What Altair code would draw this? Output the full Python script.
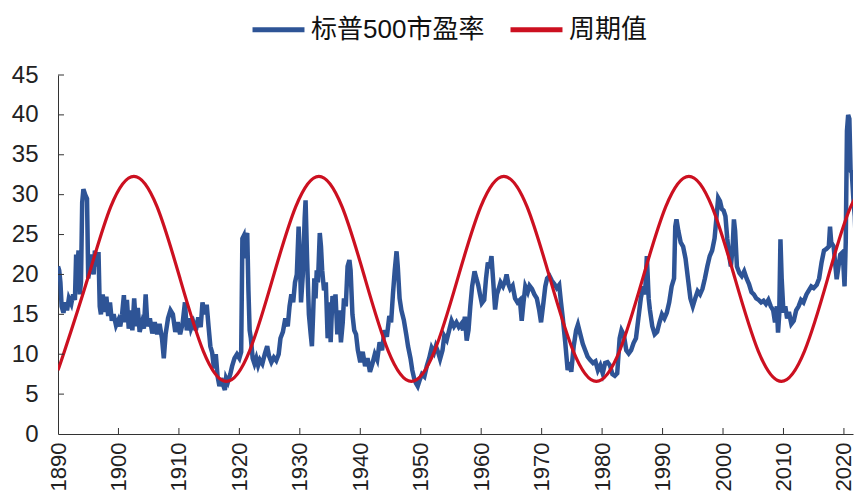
import altair as alt
import pandas as pd

SERIES = ["标普500市盈率", "周期值"]
BLUE = "#2E5496"
RED = "#CC1020"

pe_years = [
    1890.0, 1890.2, 1890.4, 1890.6, 1890.9, 1891.2, 1891.5, 1891.8, 1892.2, 1892.5,
    1892.8, 1893.0, 1893.2, 1893.4, 1893.6, 1893.8, 1894.0, 1894.2, 1894.5, 1894.8,
    1895.0, 1895.3, 1895.6, 1895.9, 1896.1, 1896.4, 1896.7, 1896.9, 1897.1, 1897.4,
    1897.7, 1898.0, 1898.3, 1898.6, 1898.9, 1899.2, 1899.6, 1900.0, 1900.3, 1900.6,
    1900.9, 1901.1, 1901.4, 1901.7, 1902.0, 1902.3, 1902.6, 1902.9, 1903.2, 1903.5,
    1903.9, 1904.2, 1904.5, 1904.8, 1905.2, 1905.6, 1906.0, 1906.4, 1906.8, 1907.2,
    1907.5, 1907.8, 1908.2, 1908.6, 1909.0, 1909.4, 1909.8, 1910.2, 1910.6, 1911.0,
    1911.3, 1911.7, 1912.0, 1912.4, 1912.8, 1913.2, 1913.6, 1913.9, 1914.3, 1914.6,
    1914.9, 1915.2, 1915.5, 1915.8, 1916.1, 1916.4, 1916.7, 1917.0, 1917.3, 1917.6,
    1917.8, 1918.1, 1918.5, 1918.8, 1919.2, 1919.6, 1920.0, 1920.3, 1920.5, 1920.7,
    1920.9, 1921.1, 1921.3, 1921.5, 1921.7, 1921.9, 1922.2, 1922.5, 1922.8, 1923.1,
    1923.4, 1923.8, 1924.2, 1924.6, 1924.9, 1925.3, 1925.7, 1926.1, 1926.5, 1926.8,
    1927.2, 1927.6, 1928.0, 1928.3, 1928.6, 1928.9, 1929.2, 1929.5, 1929.8, 1930.0,
    1930.2, 1930.5, 1930.8, 1930.95, 1931.2, 1931.5, 1931.8, 1932.0, 1932.2, 1932.4,
    1932.6, 1932.8, 1933.0, 1933.3, 1933.5, 1933.7, 1934.0, 1934.3, 1934.6, 1934.9,
    1935.1, 1935.4, 1935.7, 1935.9, 1936.2, 1936.5, 1936.8, 1937.1, 1937.3, 1937.6,
    1937.9, 1938.2, 1938.4, 1938.7, 1939.0, 1939.3, 1939.6, 1940.0, 1940.4, 1940.8,
    1941.2, 1941.6, 1942.0, 1942.4, 1942.8, 1943.2, 1943.6, 1944.0, 1944.4, 1944.8,
    1945.1, 1945.4, 1945.7, 1946.0, 1946.2, 1946.5, 1946.8, 1947.2, 1947.6, 1947.9,
    1948.3, 1948.6, 1948.9, 1949.2, 1949.5, 1949.8, 1950.2, 1950.6, 1951.0, 1951.4,
    1951.8, 1952.2, 1952.5, 1952.9, 1953.2, 1953.6, 1953.9, 1954.3, 1954.7, 1955.1,
    1955.5, 1955.9, 1956.3, 1956.7, 1957.0, 1957.3, 1957.6, 1957.9, 1958.2, 1958.5,
    1958.9, 1959.2, 1959.5, 1959.8, 1960.1, 1960.5, 1960.8, 1961.1, 1961.4, 1961.7,
    1962.0, 1962.3, 1962.6, 1962.9, 1963.2, 1963.6, 1964.0, 1964.2, 1964.5, 1964.8,
    1965.2, 1965.6, 1966.0, 1966.4, 1966.7, 1967.0, 1967.3, 1967.7, 1968.0, 1968.4,
    1968.8, 1969.2, 1969.6, 1969.9, 1970.3, 1970.6, 1970.9, 1971.3, 1971.7, 1972.1,
    1972.5, 1972.9, 1973.2, 1973.5, 1973.9, 1974.3, 1974.6, 1974.9, 1975.3, 1975.7,
    1976.0, 1976.4, 1976.8, 1977.2, 1977.6, 1978.0, 1978.5, 1978.9, 1979.3, 1979.7,
    1980.1, 1980.5, 1980.9, 1981.3, 1981.7, 1982.1, 1982.5, 1982.9, 1983.2, 1983.6,
    1984.0, 1984.4, 1984.8, 1985.2, 1985.6, 1986.0, 1986.4, 1986.8, 1987.1, 1987.4,
    1987.7, 1987.9, 1988.3, 1988.7, 1989.1, 1989.5, 1989.9, 1990.3, 1990.7, 1991.1,
    1991.5, 1991.9, 1992.1, 1992.3, 1992.6, 1993.0, 1993.4, 1993.8, 1994.2, 1994.6,
    1995.0, 1995.4, 1995.8, 1996.2, 1996.6, 1997.0, 1997.4, 1997.8, 1998.2, 1998.6,
    1998.9, 1999.2, 1999.5, 1999.8, 2000.1, 2000.4, 2000.7, 2001.0, 2001.3, 2001.6,
    2001.8, 2002.0, 2002.3, 2002.7, 2003.1, 2003.5, 2003.9, 2004.3, 2004.7, 2005.1,
    2005.5, 2005.9, 2006.3, 2006.7, 2007.1, 2007.5, 2007.9, 2008.3, 2008.6, 2008.9,
    2009.1, 2009.3, 2009.5, 2009.7, 2010.0, 2010.3, 2010.6, 2010.9, 2011.3, 2011.7,
    2012.1, 2012.5, 2012.9, 2013.3, 2013.8, 2014.2, 2014.6, 2015.0, 2015.5, 2015.9,
    2016.3, 2016.7, 2017.1, 2017.5, 2017.7, 2017.9, 2018.3, 2018.6, 2018.8, 2019.1,
    2019.4, 2019.8, 2020.1, 2020.3, 2020.5, 2020.7, 2020.9, 2021.1, 2021.3, 2021.6,
    2021.8, 2022.0, 2022.2, 2022.5, 2022.8, 2023.0,
]
pe_values = [
    21.0, 20.5, 19.0, 16.0, 15.2, 16.5, 15.5, 17.0, 16.3, 17.5,
    16.8, 22.5, 21.0, 23.0, 17.5, 19.0, 29.0, 30.7, 30.0, 29.5,
    19.5, 21.0, 22.5, 20.0, 23.0, 21.0, 22.8, 16.0, 15.0, 17.5,
    15.3, 17.2, 14.8, 16.5, 14.2, 15.0, 13.6, 14.3, 13.5, 15.0,
    17.4, 14.0, 16.8, 13.2, 15.5, 13.0, 17.0, 13.5, 15.8, 12.8,
    14.0, 13.2, 17.5, 13.5, 14.5, 12.6, 14.0, 12.5, 13.8, 12.0,
    9.5, 12.5, 14.5, 15.5, 15.0, 12.8, 14.0, 12.5, 13.8, 16.5,
    13.0, 14.5, 13.2, 14.0, 13.0, 14.6, 13.4, 16.5, 15.0, 16.2,
    13.5, 11.0, 10.2, 8.2, 10.0, 7.2, 6.0, 7.0, 6.2, 5.5,
    7.0, 6.5, 7.5, 8.5, 9.5, 10.0, 9.5, 10.3, 24.5, 24.8,
    22.0, 24.8, 25.2, 18.0, 13.0, 12.0, 9.5, 8.8, 9.5, 8.6,
    9.3, 8.8, 10.0, 11.0, 9.8, 9.0, 9.6, 9.2, 10.0, 12.0,
    12.8, 14.5, 13.5, 16.0, 17.5, 16.5, 19.0, 20.0, 26.0, 22.0,
    16.5, 20.0, 27.0, 29.3, 22.0, 15.0, 12.5, 11.0, 15.0, 19.5,
    17.0, 20.5, 19.0, 25.2, 23.5, 20.5, 18.0, 19.0, 12.0, 16.5,
    11.5, 17.3, 16.0, 17.5, 12.5, 15.5, 11.5, 14.0, 17.0, 16.0,
    21.0, 21.8, 20.5, 15.0, 13.0, 12.5, 10.5, 9.0, 10.3, 8.5,
    9.5, 7.8, 8.8, 10.0, 9.3, 11.5, 10.5, 13.0, 12.2, 14.8,
    14.0, 17.5, 20.5, 22.9, 21.0, 17.0, 15.5, 14.3, 12.5, 11.0,
    9.5, 8.0, 7.0, 6.4, 6.0, 6.7, 7.5, 7.2, 8.5, 9.5,
    10.8, 10.2, 11.0, 10.2, 9.4, 10.5, 12.3, 11.8, 13.0, 14.2,
    13.5, 14.0, 13.4, 13.8, 13.0, 14.7, 11.7, 13.0, 16.0, 18.5,
    20.4, 19.5, 18.7, 17.5, 16.4, 16.8, 19.5, 21.5, 20.8, 22.3,
    19.0, 15.6, 17.5, 18.2, 19.0, 18.5, 19.3, 20.0, 18.8, 18.2,
    18.6, 17.0, 16.5, 16.8, 14.2, 16.5, 18.5, 17.8, 18.6, 18.2,
    17.5, 17.0, 15.5, 14.0, 16.5, 18.5, 19.5, 19.8, 19.2, 18.8,
    18.3, 18.7, 16.5, 14.5, 11.5, 8.0, 9.0, 7.8, 11.0, 13.0,
    13.7, 12.5, 11.3, 10.5, 9.7, 9.3, 8.9, 9.1, 8.0, 8.6,
    7.6, 8.9, 9.0, 8.6, 7.5, 7.3, 7.6, 12.0, 13.0, 12.4,
    10.5, 10.1, 10.5, 11.4, 12.0, 14.5, 17.0, 18.5, 17.5, 22.3,
    17.0, 15.6, 13.5, 12.5, 12.8, 14.0, 15.0, 14.5, 15.2, 16.5,
    18.5, 19.5, 26.0, 26.9, 25.5, 24.0, 23.5, 22.0, 19.5, 17.0,
    16.0, 17.0, 17.9, 17.5, 18.2, 19.5, 21.0, 22.3, 23.0, 24.5,
    27.0, 29.6, 29.2, 28.2, 28.0, 27.3, 24.5, 22.5, 21.0, 23.5,
    26.9, 25.5, 21.0, 20.2, 19.8, 20.4, 19.5, 18.8, 17.8, 17.5,
    17.0, 16.8, 16.5, 16.7, 16.3, 16.8, 16.0, 15.5, 14.0, 16.0,
    12.7, 15.0, 24.4, 19.5, 15.2, 16.0, 14.5, 15.3, 13.8, 14.2,
    15.5, 16.0, 16.8, 16.5, 17.5, 18.0, 18.5, 18.3, 18.7, 19.5,
    21.5, 23.0, 23.2, 23.5, 26.0, 24.0, 23.5, 21.0, 19.4, 21.0,
    22.5, 22.8, 18.5, 24.0, 38.0, 40.0, 39.5, 33.0, 32.8, 29.0,
    27.3, 23.0, 19.4, 19.8, 22.0, 25.2,
]

cycle_years = [
    1890.0, 1891.08, 1894.9, 1898.73, 1902.55, 1906.38, 1910.2, 1914.03, 1917.85,
    1921.68, 1925.5, 1929.33, 1933.15, 1936.98, 1940.8, 1944.63, 1948.45,
    1952.28, 1956.1, 1959.93, 1963.75, 1967.58, 1971.4, 1975.23, 1979.05,
    1982.88, 1986.7, 1990.53, 1994.35, 1998.18, 2002.0, 2005.83, 2009.65,
    2013.48, 2017.3, 2021.13, 2024.95,
]
cycle_values = [
    8.0, 10.4, 19.45, 28.5, 32.3, 28.5, 19.45, 10.4, 6.6,
    10.4, 19.45, 28.5, 32.3, 28.5, 19.45, 10.4, 6.6,
    10.4, 19.45, 28.5, 32.3, 28.5, 19.45, 10.4, 6.6,
    10.4, 19.45, 28.5, 32.3, 28.5, 19.45, 10.4, 6.6,
    10.4, 19.45, 28.5, 32.3,
]

x_label_values = [1890, 1900, 1910, 1920, 1930, 1940, 1950, 1960, 1970, 1980, 1990, 2000, 2010, 2020]
y_label_values = [0, 5, 10, 15, 20, 25, 30, 35, 40, 45]
x_tick_values = [1900, 1910, 1920, 1930, 1940, 1950, 1960, 1970, 1980, 1990, 2000, 2010, 2020]
y_tick_values = [5, 10, 15, 20, 25, 30, 35, 40, 45]

pe_df = pd.DataFrame({"year": pe_years, "value": pe_values, "series": SERIES[0]})
cy_df = pd.DataFrame({"year": cycle_years, "value": cycle_values, "series": SERIES[1]})
xt_df = pd.DataFrame({"year": x_tick_values})
yt_df = pd.DataFrame({"value": y_tick_values})

W, H = 795, 359
FONT = "Liberation Sans, Arial, sans-serif"

xscale = alt.Scale(domain=[1890, 2021.5], nice=False, zero=False)
yscale = alt.Scale(domain=[0, 45], nice=False, zero=True)

xaxis = alt.Axis(
    values=x_label_values, format="d", labelAngle=-90, labelFontSize=22,
    labelFont=FONT, labelColor="#222222", ticks=False, domainColor="#333333",
    domainWidth=1, labelPadding=8, grid=False, title=None, labelFlush=False,
    labelOverlap=False,
)
yaxis = alt.Axis(
    values=y_label_values, labelFontSize=24, labelFont=FONT, labelColor="#222222",
    ticks=False, domainColor="#333333", domainWidth=1, labelPadding=20, grid=False,
    title=None, labelOverlap=False, labelFlush=False,
)

color = alt.Color(
    "series:N",
    scale=alt.Scale(domain=SERIES, range=[BLUE, RED]),
    sort=SERIES,
    legend=alt.Legend(
        orient="none", legendX=192, legendY=-74, direction="horizontal",
        title=None, symbolType="stroke", symbolStrokeWidth=5, symbolSize=2700,
        labelFontSize=26, labelFont="Liberation Sans, Noto Sans CJK SC, sans-serif",
        labelColor="#111111", labelOffset=4, columnPadding=15, padding=0,
        labelLimit=0,
    ),
)

pe = alt.Chart(pe_df).mark_line(strokeWidth=4.5, clip=True).encode(
    x=alt.X("year:Q", scale=xscale, axis=xaxis),
    y=alt.Y("value:Q", scale=yscale, axis=yaxis),
    color=color,
)
cy = alt.Chart(cy_df).mark_line(strokeWidth=3.2, interpolate="natural", clip=True).encode(
    x=alt.X("year:Q", scale=xscale, axis=xaxis),
    y=alt.Y("value:Q", scale=yscale, axis=yaxis),
    color=color,
)
yt = alt.Chart(yt_df).mark_rule(color="#333333", strokeWidth=1).encode(
    y=alt.Y("value:Q", scale=yscale, axis=yaxis),
    x=alt.value(0), x2=alt.value(6),
)
xt = alt.Chart(xt_df).mark_rule(color="#333333", strokeWidth=1).encode(
    x=alt.X("year:Q", scale=xscale, axis=xaxis),
    y=alt.value(H), y2=alt.value(H - 6),
)

chart = alt.layer(pe, cy, yt, xt).properties(
    width=W, height=H,
    padding={"left": 50, "top": 67, "right": 3, "bottom": 59},
    autosize=alt.AutoSizeParams(type="none"),
    background="white",
).configure_view(stroke=None)

chart.save("out.html", embed_options={"renderer": "svg", "actions": False})
